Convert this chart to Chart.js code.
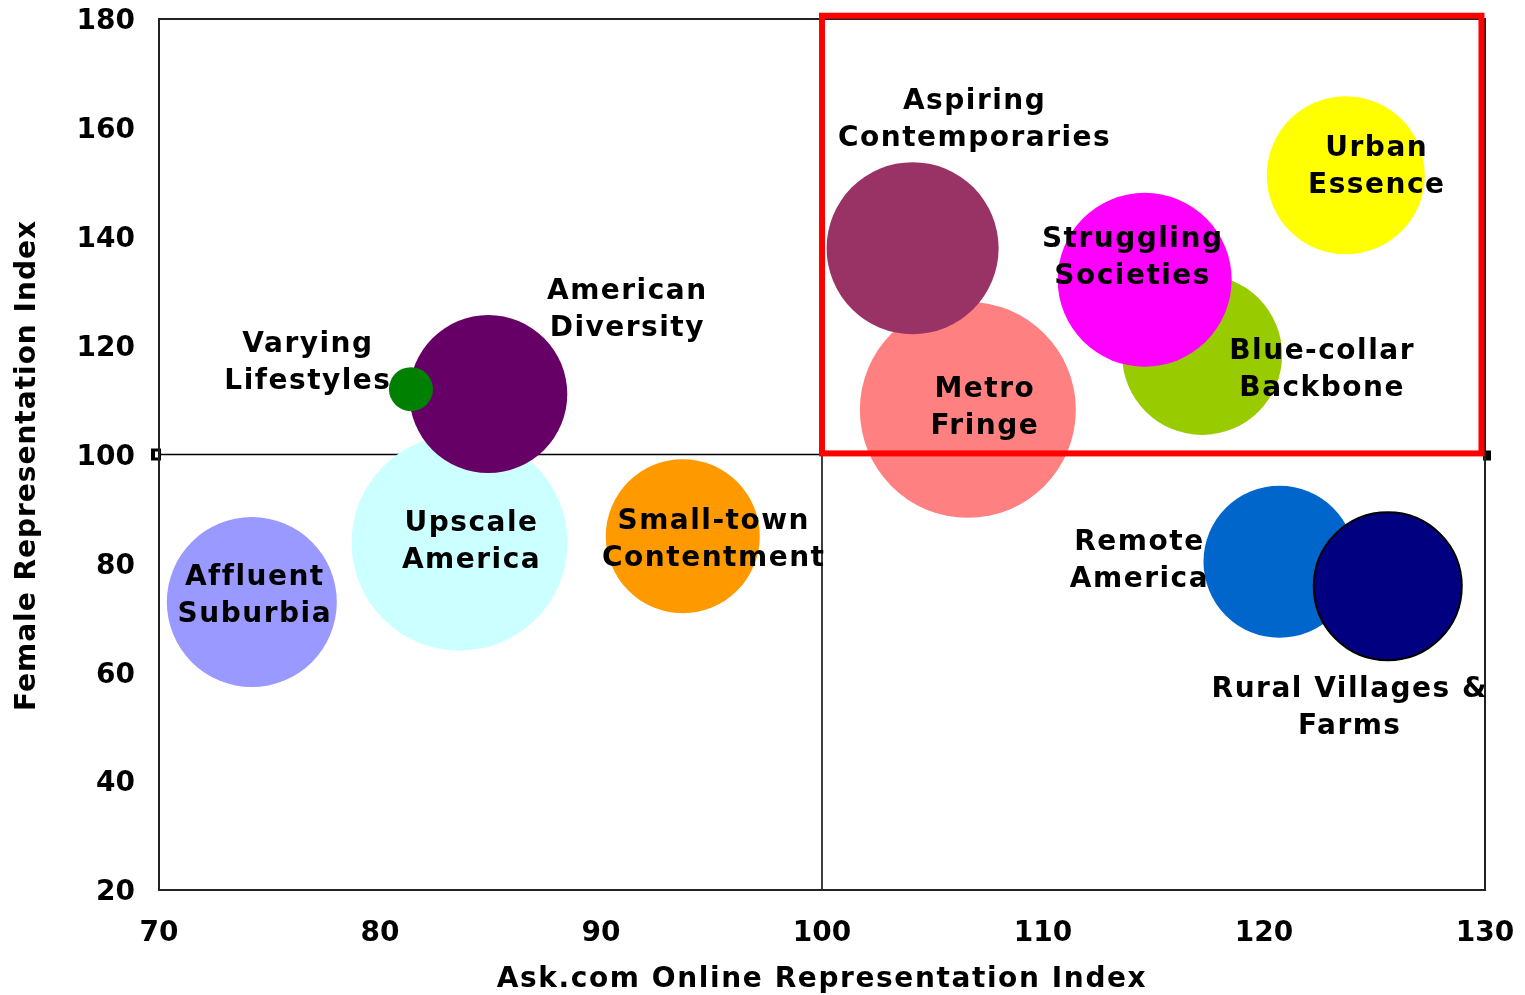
<!DOCTYPE html>
<html>
<head>
<meta charset="utf-8">
<script src="https://cdn.jsdelivr.net/npm/chart.js@4.4.1/dist/chart.umd.min.js"></script>
<style>
  html, body { margin: 0; padding: 0; background: #ffffff; }
  #wrap { width: 1525px; height: 995px; position: relative; }
</style>
</head>
<body>
<div id="wrap"><canvas id="c" width="1525" height="995"></canvas></div>
<script>
// ---- Data (drawing order: later items are drawn on top) ----
const categories = [
  "Upscale America", "American Diversity", "Varying Lifestyles", "Affluent Suburbia",
  "Small-town Contentment", "Metro Fringe", "Aspiring Contemporaries", "Blue-collar Backbone",
  "Struggling Societies", "Urban Essence", "Remote America", "Rural Villages & Farms"
];
const onlineIndex = [83.6, 84.9, 81.4, 74.2, 93.7, 106.6, 104.1, 117.2, 114.6, 123.7, 120.7, 125.6];
const femaleIndex = [83.8, 111.1, 112.0, 72.9, 85.0, 108.2, 137.9, 118.3, 132.1, 151.3, 80.3, 75.8];
const bubbleSizes = [108, 79, 22, 85, 77, 108, 86, 80, 87, 79, 76, 74];
const xTicks = [70, 80, 90, 100, 110, 120, 130];
const yTicks = [20, 40, 60, 80, 100, 120, 140, 160, 180];
const xTitle = "Ask.com Online Representation Index";
const yTitle = "Female Representation Index";

// ---- Styles ----
const bubbleColors = [
  "#CCFFFF", "#660066", "#008000", "#9999FF", "#FF9900", "#FF8080",
  "#993366", "#99CC00", "#FF00FF", "#FFFF00", "#0066CC", "#000080"
];
const bubbleBorders = [0, 0, 0, 0, 0, 0, 0, 0, 0, 0, 0, 2];
const labelLines = [
  ["Upscale", "America"], ["American", "Diversity"], ["Varying", "Lifestyles"],
  ["Affluent", "Suburbia"], ["Small-town", "Contentment"], ["Metro", "Fringe"],
  ["Aspiring", "Contemporaries"], ["Blue-collar", "Backbone"], ["Struggling", "Societies"],
  ["Urban", "Essence"], ["Remote", "America"], ["Rural Villages &", "Farms"]
];
// label block centre offsets (px) relative to bubble centre
const labelOffsets = [
  [12, 0], [139, -84], [-103, -26], [3, -6], [31, 4], [17, -2],
  [62, -128], [120, 15], [-12, -22], [31, -8], [-140, -1], [-38, 122]
];
const FONT = "'DejaVu Sans', Verdana, sans-serif";

const bubbleData = categories.map((c, i) => ({ x: onlineIndex[i], y: femaleIndex[i], r: bubbleSizes[i] }));

function setSpacing(ctx, v) { try { ctx.letterSpacing = v; } catch (e) {} }

const framePlugin = {
  id: 'frame',
  beforeDatasetsDraw(chart) {
    const { ctx, chartArea: a, scales: { x, y } } = chart;
    ctx.save();
    ctx.strokeStyle = '#000';
    ctx.lineWidth = 1.5;
    const x100 = x.getPixelForValue(100), y100 = y.getPixelForValue(100);
    ctx.beginPath();
    ctx.moveTo(x100, a.top); ctx.lineTo(x100, a.bottom);
    ctx.moveTo(a.left, y100); ctx.lineTo(a.right, y100);
    ctx.stroke();
    ctx.fillStyle = '#000';
    ctx.fillRect(a.left - 8, y100 - 6, 10, 12);
    ctx.fillRect(a.right - 2, y100 - 4, 8, 10);
    ctx.fillStyle = '#fff';
    ctx.fillRect(a.left - 4, y100 - 3, 3, 6);
    ctx.restore();
  },
  afterDatasetsDraw(chart) {
    const { ctx, chartArea: a, scales: { x, y } } = chart;
    ctx.save();
    ctx.strokeStyle = '#222';
    ctx.lineWidth = 2;
    ctx.strokeRect(a.left, a.top, a.right - a.left, a.bottom - a.top);
    const meta = chart.getDatasetMeta(0);
    ctx.fillStyle = '#000';
    ctx.font = "bold 28px " + FONT;
    ctx.textAlign = 'center';
    ctx.textBaseline = 'middle';
    setSpacing(ctx, '1.5px');
    meta.data.forEach((pt, i) => {
      const cx = pt.x + labelOffsets[i][0];
      const cy = pt.y + labelOffsets[i][1];
      const lines = labelLines[i];
      const lh = 37;
      lines.forEach((t, k) => {
        ctx.fillText(t, cx, cy + (k - (lines.length - 1) / 2) * lh);
      });
    });
    // axis titles
    setSpacing(ctx, '1.6px');
    ctx.fillText(xTitle, (a.left + a.right) / 2, 980);
    ctx.save();
    ctx.translate(28, (a.top + a.bottom) / 2 + 11);
    ctx.rotate(-Math.PI / 2);
    setSpacing(ctx, '1px');
    ctx.fillText(yTitle, 0, 0);
    ctx.restore();
    // highlight box
    ctx.strokeStyle = '#FF0000';
    ctx.lineWidth = 6;
    const l = x.getPixelForValue(100), r = x.getPixelForValue(129.84);
    const t = y.getPixelForValue(180.6), b = y.getPixelForValue(100.2);
    ctx.strokeRect(l, t, r - l, b - t);
    ctx.restore();
  }
};

new Chart(document.getElementById('c'), {
  type: 'bubble',
  data: {
    datasets: [{
      data: bubbleData,
      backgroundColor: bubbleColors,
      borderColor: '#000',
      borderWidth: bubbleBorders,
      hoverBorderWidth: bubbleBorders,
      clip: false
    }]
  },
  options: {
    responsive: false,
    animation: false,
    events: [],
    layout: { autoPadding: false, padding: { top: 19, right: 40, left: 0, bottom: 0 } },
    plugins: { legend: { display: false }, tooltip: { enabled: false } },
    scales: {
      x: {
        type: 'linear', min: 70, max: 130,
        afterBuildTicks(s) { s.ticks = xTicks.map(v => ({ value: v })); },
        afterFit(s) { s.height = 105; s.paddingLeft = 0; s.paddingRight = 0; },
        grid: { display: false, drawTicks: false },
        border: { display: false },
        ticks: { color: '#000', padding: 27, maxRotation: 0, font: { family: FONT, size: 28, weight: 'bold' } },
        title: { display: false }
      },
      y: {
        type: 'linear', min: 20, max: 180,
        afterBuildTicks(s) { s.ticks = yTicks.map(v => ({ value: v })); },
        afterFit(s) { s.width = 159; s.paddingTop = 0; s.paddingBottom = 0; },
        grid: { display: false, drawTicks: false },
        border: { display: false },
        ticks: { color: '#000', padding: 24, labelOffset: 3, font: { family: FONT, size: 28, weight: 'bold' } },
        title: { display: false }
      }
    }
  },
  plugins: [framePlugin]
});
</script>
</body>
</html>
